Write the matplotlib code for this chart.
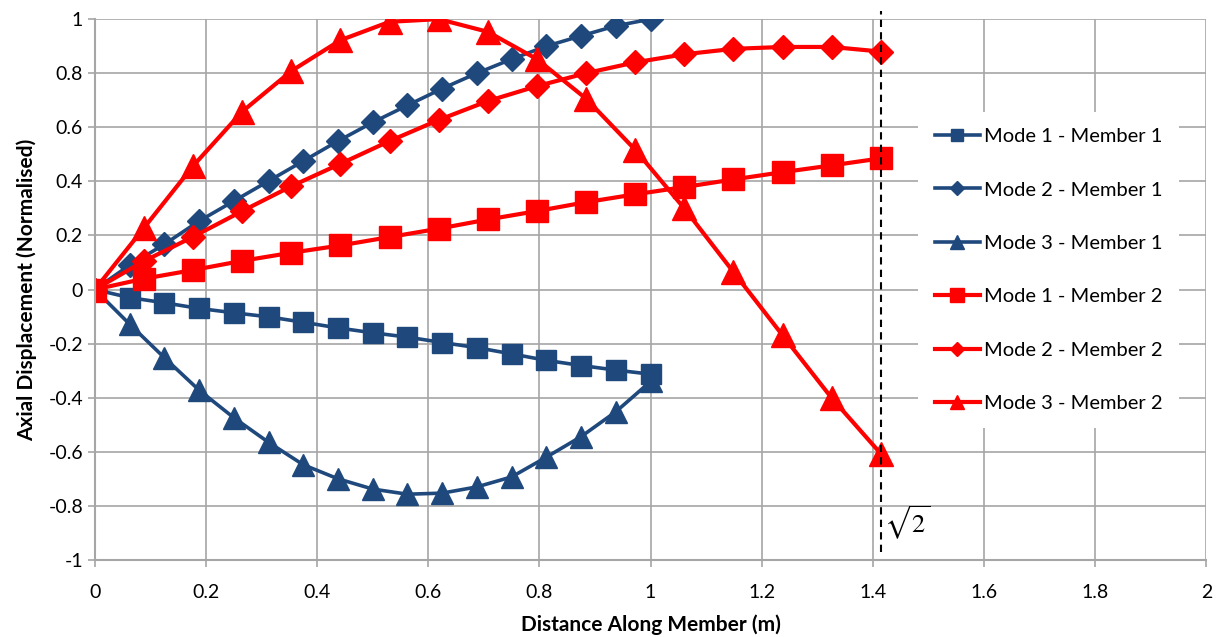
import numpy as np
import matplotlib
matplotlib.use("Agg")
import matplotlib.pyplot as plt

plt.rcParams["font.family"] = ["Lato", "DejaVu Sans"]

# sample positions along each member (member 2 has length sqrt(2))
x_member1 = np.linspace(0.0, 1.0, 17)
x_member2 = np.linspace(0.0, np.sqrt(2), 17)

mode1_member1 = [0.0, -0.03, -0.049, -0.07, -0.086, -0.101, -0.121, -0.142, -0.16,
                 -0.176, -0.196, -0.215, -0.238, -0.262, -0.281, -0.298, -0.313]
mode2_member1 = [0.0, 0.09, 0.167, 0.253, 0.327, 0.401, 0.475, 0.549, 0.618,
                 0.681, 0.743, 0.80, 0.852, 0.90, 0.938, 0.975, 1.0]
mode3_member1 = [0.0, -0.128, -0.252, -0.372, -0.474, -0.565, -0.648, -0.70, -0.738,
                 -0.757, -0.753, -0.73, -0.693, -0.62, -0.544, -0.452, -0.34]

mode1_member2 = [0.0, 0.04, 0.072, 0.106, 0.136, 0.163, 0.194, 0.225, 0.259,
                 0.29, 0.323, 0.352, 0.379, 0.407, 0.434, 0.459, 0.485]
mode2_member2 = [0.0, 0.105, 0.195, 0.29, 0.382, 0.465, 0.549, 0.627, 0.697,
                 0.752, 0.80, 0.84, 0.87, 0.89, 0.897, 0.897, 0.88]
mode3_member2 = [0.0, 0.228, 0.457, 0.658, 0.808, 0.922, 0.99, 1.0, 0.953,
                 0.852, 0.706, 0.517, 0.30, 0.065, -0.169, -0.401, -0.607]

series_labels = ["Mode 1 - Member 1", "Mode 2 - Member 1", "Mode 3 - Member 1",
                 "Mode 1 - Member 2", "Mode 2 - Member 2", "Mode 3 - Member 2"]

x_ticks = [0, 0.2, 0.4, 0.6, 0.8, 1, 1.2, 1.4, 1.6, 1.8, 2]
x_tick_labels = ["0", "0.2", "0.4", "0.6", "0.8", "1", "1.2", "1.4", "1.6", "1.8", "2"]
y_ticks = [-1, -0.8, -0.6, -0.4, -0.2, 0, 0.2, 0.4, 0.6, 0.8, 1]
y_tick_labels = ["-1", "-0.8", "-0.6", "-0.4", "-0.2", "0", "0.2", "0.4", "0.6", "0.8", "1"]

BLUE = "#1F497D"
RED = "#FF0000"
GRID = "#a6a6a6"

fig = plt.figure(figsize=(12.16, 6.37), dpi=100)
ax = fig.add_axes([0.078, 0.121, 0.914, 0.849])

ax.plot(x_member1, mode1_member1, color=BLUE, lw=2.6, marker="s", ms=15, label=series_labels[0])
ax.plot(x_member1, mode2_member1, color=BLUE, lw=2.6, marker="D", ms=12, label=series_labels[1])
ax.plot(x_member1, mode3_member1, color=BLUE, lw=2.6, marker="^", ms=16, label=series_labels[2])
ax.plot(x_member2, mode1_member2, color=RED, lw=3, marker="s", ms=16.5, label=series_labels[3])
ax.plot(x_member2, mode2_member2, color=RED, lw=3, marker="D", ms=12.5, label=series_labels[4])
ax.plot(x_member2, mode3_member2, color=RED, lw=3, marker="^", ms=17, label=series_labels[5])

# end of member 2
ax.plot([np.sqrt(2), np.sqrt(2)], [-0.97, 1.03], color="black", lw=1.5,
        ls=(0, (3.5, 2.5)), clip_on=False, zorder=5)
ax.text(1.42, -0.865, r"$\sqrt{2}$", fontsize=19, math_fontfamily="stix",
        ha="left", va="center")

ax.set_xlim(0, 2)
ax.set_ylim(-1, 1)
ax.set_xticks(x_ticks)
ax.set_xticklabels(x_tick_labels)
ax.set_yticks(y_ticks)
ax.set_yticklabels(y_tick_labels)
ax.tick_params(labelsize=14, colors=GRID, labelcolor="black", length=5, width=1.2)
ax.tick_params(axis="x", pad=12)
ax.grid(True, color=GRID, lw=1.2)
ax.set_axisbelow(True)
for side in ["top", "right"]:
    ax.spines[side].set_visible(False)
for side in ["left", "bottom"]:
    ax.spines[side].set_color(GRID)
    ax.spines[side].set_linewidth(1.5)

ax.set_xlabel("Distance Along Member (m)", fontsize=15, fontweight="bold", labelpad=10)
ax.set_ylabel("Axial Displacement (Normalised)", fontsize=15, fontweight="bold", labelpad=8)

leg = ax.legend(loc="upper left", bbox_to_anchor=(0.747, 0.84), bbox_transform=fig.transFigure,
                fontsize=14.5, markerscale=0.6, handlelength=2.25, labelspacing=1.8,
                frameon=True, fancybox=False, borderpad=0.8, handletextpad=0.2)
leg.get_frame().set_facecolor("white")
leg.get_frame().set_edgecolor("none")
leg.get_frame().set_alpha(1.0)
leg.set_zorder(10)

fig.savefig("out.png", dpi=100)
